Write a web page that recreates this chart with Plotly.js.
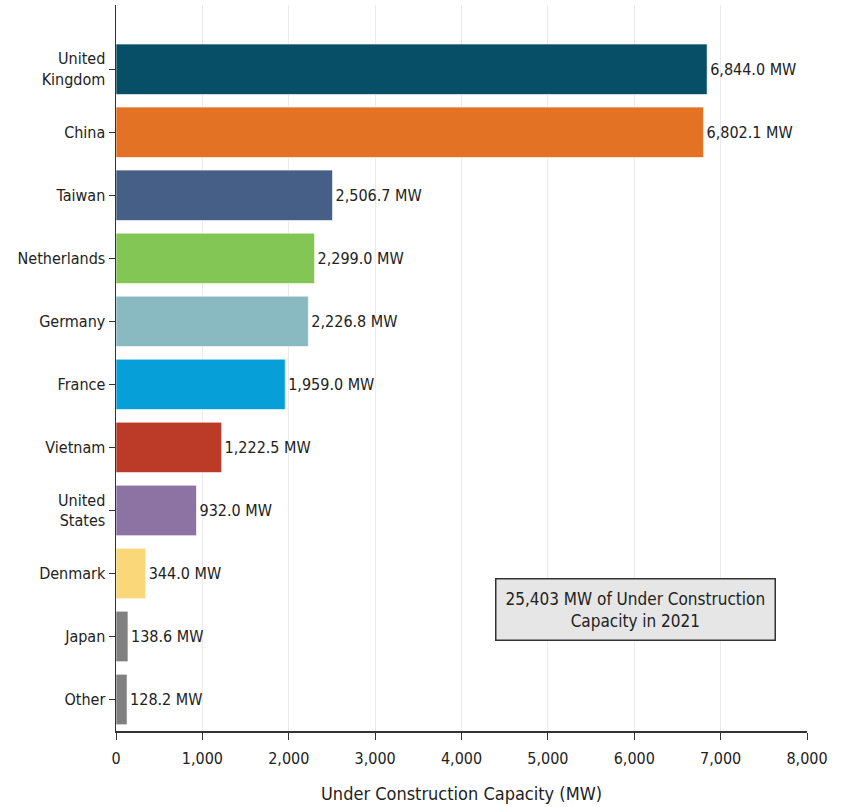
<!DOCTYPE html>
<html><head><meta charset="utf-8">
<script src="https://cdn.plot.ly/plotly-3.0.1.min.js"></script>
<style>html,body{margin:0;padding:0;background:#fff}#c{width:841px;height:807px}</style>
</head><body><div id="c"></div>
<script>
const countries = ["United<br>Kingdom","China","Taiwan","Netherlands","Germany","France","Vietnam","United<br>States","Denmark","Japan","Other"];
const capacityMW = [6844.0,6802.1,2506.7,2299.0,2226.8,1959.0,1222.5,932.0,344.0,138.6,128.2];
const barColors = ["#064f66","#e37224","#455f87","#84c656","#89b9c1","#069fd8","#bb3a28","#8c73a4","#fad87a","#808080","#808080"];
const xTicks = [0,1000,2000,3000,4000,5000,6000,7000,8000];
const xTickLabels = ["0","1,000","2,000","3,000","4,000","5,000","6,000","7,000","8,000"];
const totalNote = "25,403 MW of Under Construction<br>Capacity in 2021";

const F = "DejaVu Sans Condensed, DejaVu Sans, sans-serif";
const labels = capacityMW.map(v => v.toLocaleString("en-US",{minimumFractionDigits:1,maximumFractionDigits:1}) + " MW");

Plotly.newPlot("c", [{
  type: "bar", orientation: "h",
  x: capacityMW, y: countries,
  marker: {color: barColors, line: {color: "rgba(255,255,255,0.6)", width: 1}},
  width: 0.8,
  text: labels, textposition: "outside", cliponaxis: false,
  textfont: {family: F, size: 16, color: "#222"},
  hoverinfo: "x+y"
}], {
  width: 841, height: 807,
  margin: {l: 116, r: 34, t: 5, b: 76},
  paper_bgcolor: "#fff", plot_bgcolor: "#fff",
  font: {family: F, size: 16, color: "#222"},
  showlegend: false,
  xaxis: {
    range: [0, 8000], tickvals: xTicks, ticktext: xTickLabels,
    showgrid: true, gridcolor: "#ebebeb", gridwidth: 1,
    showline: true, linecolor: "#333", linewidth: 1.5,
    ticks: "outside", ticklen: 7, tickcolor: "#333",
    ticklabelstandoff: 5,
    zeroline: false,
    tickfont: {family: F, size: 16, color: "#222"},
    title: {text: "Under Construction Capacity (MW)", font: {family: F, size: 18, color: "#222"}, standoff: 20}
  },
  yaxis: {
    type: "category", range: [10.5, -1.02],
    showgrid: false, showline: true, linecolor: "#333", linewidth: 1.5,
    ticks: "outside", ticklen: 6, tickcolor: "#333",
    tickfont: {family: F, size: 16, color: "#222"}
  },
  annotations: [{
    xref: "x", yref: "y", x: 6010, y: 8.57,
    text: totalNote, showarrow: false,
    font: {family: F, size: 17, color: "#222"},
    bgcolor: "#e6e6e6", bordercolor: "#333", borderwidth: 1.5, borderpad: 9
  }],
  bargap: 0.2
}, {displayModeBar: false, staticPlot: true});
</script></body></html>
